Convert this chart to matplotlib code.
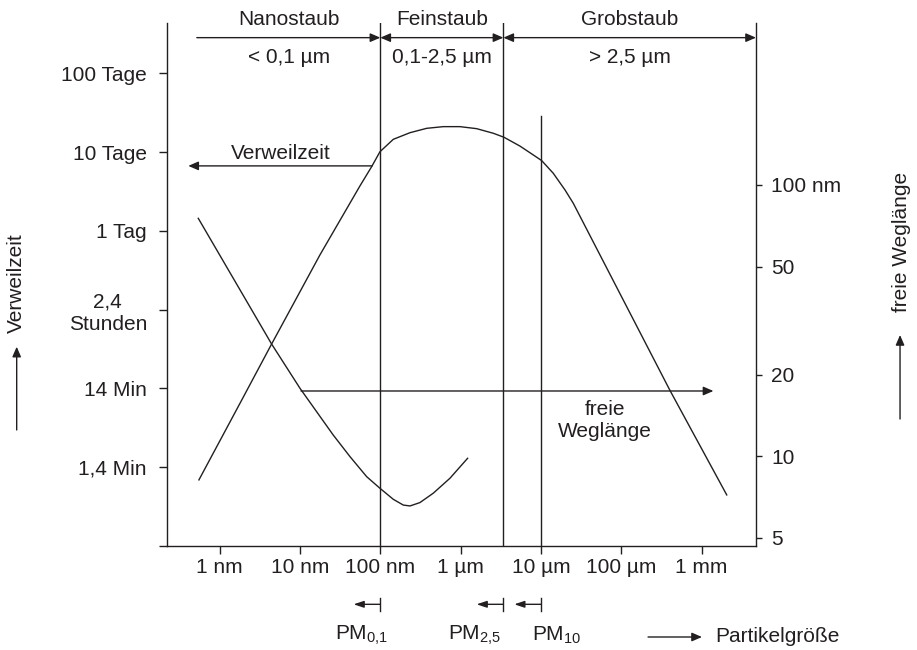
import matplotlib
matplotlib.use("Agg")
import numpy as np
import matplotlib.pyplot as plt
from matplotlib.ticker import NullLocator

INK = "#231f20"
plt.rcParams.update({
    "font.family": ["Liberation Sans", "DejaVu Sans"],
    "font.size": 15,
    "mathtext.fontset": "custom",
    "mathtext.rm": "Liberation Sans",
    "mathtext.it": "Liberation Sans:italic",
    "text.color": INK,
    "axes.edgecolor": INK,
    "xtick.color": INK,
    "ytick.color": INK,
    "axes.linewidth": 1.0,
})

# particle size axis (metres)
size_ticks = [1e-9, 1e-8, 1e-7, 1e-6, 1e-5, 1e-4, 1e-3]
size_labels = ["1 nm", "10 nm", "100 nm", "1 µm", "10 µm", "100 µm", "1 mm"]
size_lim = [2.21e-10, 4.74e-3]

# residence time axis (days)
time_ticks = [1e-4, 1e-3, 1e-2, 1e-1, 1, 10, 100]
time_labels = ["", "1,4 Min", "14 Min", "2,4\nStunden", "1 Tag", "10 Tage", "100 Tage"]
time_lim = [1e-4, 434]

# mean free path axis (nm)
path_ticks = [5, 10, 20, 50, 100]
path_labels = ["5", "10", "20", "50", "100 nm"]
path_lim = [4.67, 395]

# residence time curve
res_size = [5.52e-10, 1.88e-9, 4.44e-9, 1.77e-8, 5.58e-8, 7.80e-8, 9.9e-8,
            1.45e-7, 2.34e-7, 3.78e-7, 6.08e-7, 9.8e-7, 1.58e-6, 2.55e-6,
            3.46e-6, 5.47e-6, 8.02e-6, 1.02e-5, 1.42e-5, 1.99e-5, 2.52e-5,
            4.04e-4, 2.05e-3]
res_days = [6.9e-4, 7.1e-3, 0.0367, 0.494, 3.72, 6.53, 10.1,
            14.5, 17.6, 20.0, 21.0, 21.0, 19.8, 17.3,
            15.4, 11.9, 9.18, 7.78, 5.38, 3.30, 2.24,
            9.38e-3, 4.45e-4]

# mean free path curve
path_size = [5.42e-10, 4.44e-9, 1.0e-8, 1.61e-8, 2.59e-8, 4.19e-8, 6.76e-8,
             9.9e-8, 1.45e-7, 1.93e-7, 2.34e-7, 3.11e-7, 4.56e-7, 7.36e-7,
             1.22e-6]
path_nm = [75.3, 25.9, 17.8, 14.6, 11.98, 9.97, 8.41,
           7.62, 6.94, 6.61, 6.56, 6.75, 7.31, 8.30,
           9.83]

# dust classes
class_names = ["Nanostaub", "Feinstaub", "Grobstaub"]
class_ranges = ["< 0,1 µm", "0,1-2,5 µm", "> 2,5 µm"]
class_bounds = [5.2e-10, 1e-7, 3.4e-6, 4.74e-3]

pm_names = ["PM$_{0{,}1}$", "PM$_{2{,}5}$", "PM$_{10}$"]
pm_bounds = [1e-7, 3.4e-6, 1e-5]
pm_label_x = [5.9e-8, 1.5e-6, 1.55e-5]

fig = plt.figure(figsize=(9.17, 6.5), dpi=100)
ax = fig.add_axes([0.1821, 0.16, 0.6423, 0.8046])
ax2 = ax.twinx()

for a in (ax, ax2):
    a.set_xscale("log")
    a.set_yscale("log")
    a.patch.set_visible(False)
    a.spines["top"].set_visible(False)
ax.spines["right"].set_visible(False)
ax2.spines["left"].set_visible(False)
ax2.spines["bottom"].set_visible(False)

ax.set_xlim(size_lim)
ax.set_ylim(time_lim)
ax2.set_ylim(path_lim)

ax.set_xticks(size_ticks, size_labels)
ax.set_yticks(time_ticks, time_labels)
ax2.set_yticks(path_ticks, path_labels)
for lbl in ax.get_yticklabels():
    lbl.set_multialignment("center")
ax.xaxis.set_minor_locator(NullLocator())
ax.yaxis.set_minor_locator(NullLocator())
ax2.yaxis.set_minor_locator(NullLocator())
ax.tick_params(axis="x", direction="out", length=5.5, width=1, pad=3)
ax.tick_params(axis="y", direction="out", length=5.8, width=1, pad=8.6)
ax2.tick_params(axis="y", direction="out", length=4.5, width=1, pad=6.5)

lw = 1.0
ax.plot(res_size, res_days, color=INK, lw=lw)
ax2.plot(path_size, path_nm, color=INK, lw=lw)

trans = ax.get_xaxis_transform()
for b in class_bounds[1:3]:
    ax.axvline(b, color=INK, lw=lw)
ax.axvline(pm_bounds[2], ymax=0.822, color=INK, lw=lw)

# dimension arrows at the top
arrow_kw = dict(lw=lw, color=INK, shrinkA=0, shrinkB=0, mutation_scale=20)
styles = ["-|>,head_length=0.3,head_width=0.13",
          "<|-|>,head_length=0.3,head_width=0.13",
          "<|-|>,head_length=0.3,head_width=0.13"]
for i, name in enumerate(class_names):
    lo, hi = class_bounds[i], class_bounds[i + 1]
    ax.annotate("", xy=(hi, 0.972), xytext=(lo, 0.972), xycoords=trans,
                textcoords=trans, annotation_clip=False,
                arrowprops=dict(arrowstyle=styles[i], **arrow_kw))
    mid = np.sqrt(lo * hi)
    ax.text(mid, 1.006, name, transform=trans, ha="center", va="center")
    ax.text(mid, 0.935, class_ranges[i], transform=trans, ha="center", va="center")

# curve labels
ax.annotate("", xy=(4.07e-10, 6.67), xytext=(7.9e-8, 6.67),
            arrowprops=dict(arrowstyle="-|>,head_length=0.3,head_width=0.13", **arrow_kw))
ax.text(5.8e-9, 9.5, "Verweilzeit", ha="center", va="center")
ax2.annotate("", xy=(1.40e-3, 17.4), xytext=(1.03e-8, 17.4),
             arrowprops=dict(arrowstyle="-|>,head_length=0.3,head_width=0.13", **arrow_kw))
ax2.text(6.25e-5, 13.5, "freie\nWeglänge", ha="center", va="center",
         multialignment="center", linespacing=1.2)

# PM markers below the axis
for b, name, lx in zip(pm_bounds, pm_names, pm_label_x):
    ax.annotate("", xy=(b / 2.15, -0.1115), xytext=(b, -0.1115), xycoords=trans,
                textcoords=trans, annotation_clip=False,
                arrowprops=dict(arrowstyle="-|>,head_length=0.3,head_width=0.1",
                                lw=lw, color=INK, shrinkA=0, shrinkB=0,
                                mutation_scale=20))
    ax.plot([b, b], [-0.0989, -0.1243], transform=trans, color=INK, lw=lw,
            clip_on=False)
    ax.text(lx, -0.171, name, transform=trans, ha="center", va="center")

# axis captions with arrows
fig.text(0.7797, 0.02, "Partikelgröße", ha="left", va="center")
fig.add_artist(matplotlib.patches.FancyArrowPatch(
    (0.7067, 0.02), (0.7655, 0.02), transform=fig.transFigure,
    arrowstyle="-|>,head_length=0.3,head_width=0.13", **arrow_kw))
fig.text(0.0174, 0.5646, "Verweilzeit", rotation=90, ha="center", va="center")
fig.add_artist(matplotlib.patches.FancyArrowPatch(
    (0.0182, 0.3385), (0.0182, 0.4666), transform=fig.transFigure,
    arrowstyle="-|>,head_length=0.3,head_width=0.13", **arrow_kw))
fig.text(0.9833, 0.6277, "freie Weglänge", rotation=90, ha="center", va="center")
fig.add_artist(matplotlib.patches.FancyArrowPatch(
    (0.9815, 0.3554), (0.9815, 0.4846), transform=fig.transFigure,
    arrowstyle="-|>,head_length=0.3,head_width=0.13", **arrow_kw))

fig.savefig("out.png", dpi=100)
